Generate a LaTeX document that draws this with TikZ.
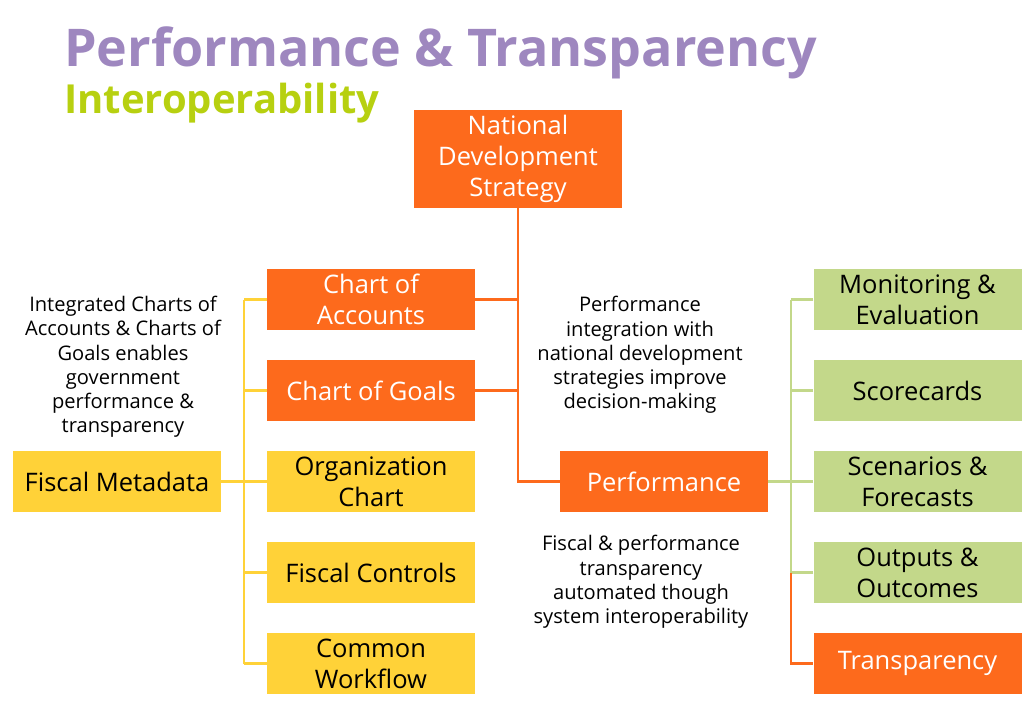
\documentclass[tikz,border=0pt]{standalone}
\usepackage{fontspec}
\setmainfont{Open Sans}
\usepackage{tikz}
\usetikzlibrary{positioning,calc}
\definecolor{ndsorange}{RGB}{253,106,28}
\definecolor{metayellow}{RGB}{255,210,56}
\definecolor{perfgreen}{RGB}{195,216,138}
\definecolor{titlepurple}{RGB}{158,135,191}
\definecolor{titlegreen}{RGB}{183,208,16}

\begin{document}
\begin{tikzpicture}[x=1pt,y=-1pt,
  box/.style={minimum width=208pt,minimum height=61pt,inner sep=0pt,align=center,
    font=\fontsize{25.5}{31}\selectfont},
  orangebox/.style={box,fill=ndsorange,text=white},
  yellowbox/.style={box,fill=metayellow,text=black},
  greenbox/.style={box,fill=perfgreen,text=black},
  note/.style={align=center,inner sep=0pt,font=\fontsize{20.1}{24.2}\selectfont},
  link/.style={line width=2.6pt},
  olink/.style={link,ndsorange},
  ylink/.style={link,metayellow},
  glink/.style={link,perfgreen}]
  \useasboundingbox (0,0) rectangle (1024,713);
  % title
  \node[anchor=base west,inner sep=0pt,text=titlepurple,font=\fontsize{52}{56}\selectfont\bfseries]
    (title) at (64,66) {Performance \& Transparency};
  \node[anchor=base west,inner sep=0pt,text=titlegreen,font=\fontsize{40}{42}\selectfont\bfseries]
    (subtitle) at (64,113) {Interoperability};
  % boxes
  \node[orangebox,minimum height=98pt] (nds) at (518,159) {National\\Development\\Strategy};
  \node[orangebox] (coa) at (371,299.5) {Chart of\\Accounts};
  \node[orangebox] (cog) at (371,390.5) {Chart of Goals};
  \node[yellowbox] (org) at (371,481.5) {Organization\\Chart};
  \node[yellowbox] (fc) at (371,572.5) {Fiscal Controls};
  \node[yellowbox] (cwf) at (371,663.5) {Common\\Workflow};
  \node[yellowbox] (meta) at (117,481.5) {Fiscal Metadata};
  \node[orangebox] (perf) at (664,481.5) {Performance};
  \node[greenbox] (mon) at (917.5,299.5) {Monitoring \&\\Evaluation};
  \node[greenbox] (score) at (917.5,390.5) {Scorecards};
  \node[greenbox] (scen) at (917.5,481.5) {Scenarios \&\\Forecasts};
  \node[greenbox] (outc) at (917.5,572.5) {Outputs \&\\Outcomes};
  \node[orangebox] (trans) at (917.5,663.5) {Transparency};
  % notes
  \node[note] (leftnote) at (123,367) {Integrated Charts of\\Accounts \& Charts of\\Goals enables\\government\\performance \&\\transparency};
  \node[note] (midnote) at (640,355) {Performance\\integration with\\national development\\strategies improve\\decision-making};
  \node[note] (lownote) at (641,582) {Fiscal \& performance\\transparency\\automated though\\system interoperability};
  % connectors
  \coordinate (ytrunk) at (244,0);
  \coordinate (gtrunk) at (791,0);
  \draw[olink] (nds.south) |- (perf.west);
  \draw[olink] (coa.east) -- (coa.east -| nds.south);
  \draw[olink] (cog.east) -- (cog.east -| nds.south);
  \draw[ylink] (meta.east) -- (meta.east -| ytrunk);
  \draw[ylink] (coa.west -| ytrunk) -- (cwf.west -| ytrunk);
  \foreach \n in {coa,cog,org,fc,cwf}
    \draw[ylink] (\n.west) -- (\n.west -| ytrunk);
  \draw[glink] (perf.east) -- (perf.east -| gtrunk);
  \draw[glink] (mon.west -| gtrunk) -- (outc.west -| gtrunk);
  \foreach \n in {mon,score,scen,outc}
    \draw[glink] (\n.west) -- (\n.west -| gtrunk);
  \draw[olink] (outc.west -| gtrunk) |- (trans.west);
\end{tikzpicture}
\end{document}
